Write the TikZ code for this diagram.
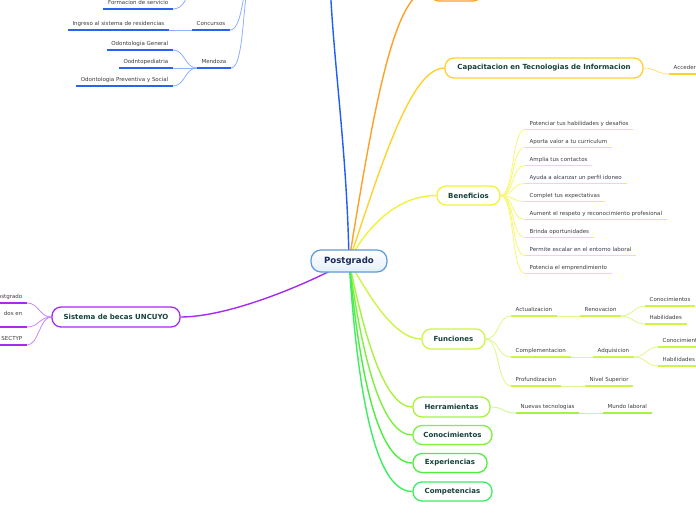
\documentclass[tikz,border=0pt]{standalone}
\usepackage{fontspec}
\setmainfont{DejaVu Sans}
\pgfdeclarelayer{bg}
\pgfsetlayers{bg,main}
\definecolor{tBlue}{HTML}{1F5CFA}
\definecolor{lBlue}{HTML}{8FB0FF}
\definecolor{uBlue}{HTML}{2A62F2}
\definecolor{cOrange}{HTML}{FFA126}
\definecolor{cGold}{HTML}{FFD22E}
\definecolor{lGold}{HTML}{FFE27A}
\definecolor{cYellow}{HTML}{F2F23A}
\definecolor{lYellow}{HTML}{F8F870}
\definecolor{cFun}{HTML}{CDF545}
\definecolor{lFun}{HTML}{DDF88A}
\definecolor{cHerr}{HTML}{A6F23F}
\definecolor{lHerr}{HTML}{C8F78A}
\definecolor{cCono}{HTML}{7DF03C}
\definecolor{cExp}{HTML}{4DEE3C}
\definecolor{cComp}{HTML}{3CEE62}
\definecolor{cPurple}{HTML}{A52BEF}
\definecolor{lPurple}{HTML}{C98AF5}
\definecolor{pgBorder}{HTML}{5B9BD9}
\definecolor{pgFill}{HTML}{E4EFFA}
\definecolor{pgText}{HTML}{1A2A58}
\definecolor{brText}{HTML}{15413A}
\definecolor{leafText}{HTML}{3C3C3C}
\begin{document}
\begin{tikzpicture}[x=1pt,y=-1pt,
  branch/.style={draw, fill=white, rounded corners=9pt, line width=1.3pt,
    font=\bfseries\fontsize{7}{8}\selectfont, text=brText, inner sep=0pt, minimum height=20pt},
  leaf/.style={font=\fontsize{5.5}{6.6}\selectfont, text=leafText, inner xsep=4.5pt,
    inner ysep=3pt, text height=4.2pt, text depth=1.2pt},
  trunk/.style={line width=1.4pt},
  twig/.style={line width=0.8pt},
  uline/.style={line width=1.8pt},
]
\useasboundingbox (0,0) rectangle (696,520);

% ---------- nodes ----------
\node[branch, draw=pgBorder, line width=1.2pt, rounded corners=10pt, text=pgText,
  top color=white, bottom color=pgFill,
  font=\bfseries\fontsize{8.6}{10}\selectfont, minimum width=76pt, minimum height=22pt] (pg) at (349,261) {Postgrado};
\node[branch, draw=cOrange, minimum width=52pt, minimum height=22pt] (orn) at (456,-10) {};
\node[branch, draw=cGold, minimum width=198pt] (cap) at (544,68) {Capacitacion en Tecnologias de Informacion};
\node[branch, draw=cYellow, minimum width=63pt, minimum height=19pt] (ben) at (468.5,195.5) {Beneficios};
\node[branch, draw=cFun, minimum width=63pt] (fun) at (453.5,339) {Funciones};
\node[branch, draw=cHerr, minimum width=77pt] (herr) at (451.5,407) {Herramientas};
\node[branch, draw=cCono, minimum width=79pt, minimum height=19pt] (cono) at (452.5,435) {Conocimientos};
\node[branch, draw=cExp, minimum width=74pt, minimum height=19pt] (exper) at (450,463) {Experiencias};
\node[branch, draw=cComp, minimum width=79pt, minimum height=19pt] (compe) at (452.5,491.5) {Competencias};
\node[branch, draw=cPurple, minimum width=128pt] (sis) at (116,317) {Sistema de becas UNCUYO};

\coordinate (blueTop) at (330,-20);
\coordinate (bpA) at (190,-12);
\coordinate (bpB) at (252,-22);

% blue leaves (left)
\node[leaf, anchor=south east] (fs) at (173,9) {Formacion de servicio};
\node[leaf, anchor=south east] (ing) at (169,30) {Ingreso al sistema de residencias};
\node[leaf, anchor=south east] (conc) at (230,30) {Concursos};
\node[leaf, anchor=south east] (mend) at (231,68) {Mendoza};
\node[leaf, anchor=south east] (og) at (173,50) {Odontologia General};
\node[leaf, anchor=south east] (oped) at (173,68) {Oodntopediatria};
\node[leaf, anchor=south east] (ops) at (173,86) {Odontologia Preventiva y Social};

% gold leaf
\node[leaf, anchor=south west] (acc) at (669,74) {Acceder};

% beneficios leaves
\foreach \t [count=\i from 0] in {Potenciar tus habilidades y desafios,Aporta valor a tu curriculum,Amplia tus contactos,Ayuda a alcanzar un perfil idoneo,Complet tus expectativas,Aument el respeto y reconocimiento profesional,Brinda oportunidades,Permite escalar en el entorno laboral,Potencia el emprendimiento}
  \node[leaf, anchor=south west] (b\i) at (525,129.5+18*\i) {\t};

% funciones leaves
\node[leaf, anchor=south west] (act) at (511,316) {Actualizacion};
\node[leaf, anchor=south west] (ren) at (580,316) {Renovacion};
\node[leaf, anchor=south west] (con1) at (645,306) {Conocimientos};
\node[leaf, anchor=south west] (hab1) at (645,324) {Habilidades};
\node[leaf, anchor=south west] (cmp) at (511,357) {Complementacion};
\node[leaf, anchor=south west] (adq) at (593,357) {Adquisicion};
\node[leaf, anchor=south west] (con2) at (658,347) {Conocimientos};
\node[leaf, anchor=south west] (hab2) at (658,366) {Habilidades};
\node[leaf, anchor=south west] (prof) at (511,386) {Profundizacion};
\node[leaf, anchor=south west] (niv) at (585,386) {Nivel Superior};

% herramientas leaves
\node[leaf, anchor=south west] (nt) at (516,413) {Nuevas tecnologias};
\node[leaf, anchor=south west] (ml) at (603,413) {Mundo laboral};

% purple leaves (left)
\node[leaf, anchor=south east] (pl1) at (27,303) {ostgrado};
\node[leaf, anchor=south east, text depth=8pt] (pl2) at (27,327) {dos en\hspace{4pt}};
\node[leaf, anchor=south east] (pl3) at (27,345) {SECTYP};

% ---------- connectors ----------
\begin{pgfonlayer}{bg}
\fill[white] (-5,-5) rectangle (701,525);

% trunks
\draw[trunk, tBlue] (pg.center) .. controls (347,150) and (333,60) .. (blueTop);
\draw[trunk, cOrange] (pg.center) .. controls (375,100) and (395,-10) .. (orn.west);
\draw[trunk, cGold] (pg.center) .. controls (380,170) and (410,68) .. (cap.west);
\draw[trunk, cYellow] (pg.center) .. controls (365,230) and (395,195.5) .. (ben.west);
\draw[trunk, cFun] (pg.center) .. controls (365,288) and (392,339) .. (fun.west);
\draw[trunk, cHerr] (pg.center) .. controls (365,340) and (385,407) .. (herr.west);
\draw[trunk, cCono] (pg.center) .. controls (363,365) and (383,435) .. (cono.west);
\draw[trunk, cExp] (pg.center) .. controls (361,390) and (381,463) .. (exper.west);
\draw[trunk, cComp] (pg.center) .. controls (359,415) and (379,491.5) .. (compe.west);
\draw[trunk, cPurple] (pg.center) .. controls (310,283) and (230,317) .. (sis.east);

% blue twigs
\draw[twig, lBlue] (bpA) .. controls (187,-2) and (183,9) .. (fs.south east);
\draw[twig, lBlue] (bpB) .. controls (242,-22) and (244,30) .. (conc.south east);
\draw[twig, lBlue] (bpB) .. controls (242,-22) and (246,68) .. (mend.south east);
\draw[twig, lBlue] (conc.south west) -- (ing.south east);
\foreach \n in {og,oped,ops}
  \draw[twig, lBlue] (mend.south west) .. controls +(-12,0) and +(12,0) .. (\n.south east);

% gold twig
\draw[twig, lGold] (cap.east) .. controls +(12,0) and +(-12,0) .. (acc.south west);

% beneficios twigs
\foreach \i in {0,...,8}
  \draw[twig, lYellow] (ben.east) .. controls +(14,0) and +(-14,0) .. (b\i.south west);

% funciones twigs
\foreach \n in {act,cmp,prof}
  \draw[twig, lFun] (fun.east) .. controls +(14,0) and +(-14,0) .. (\n.south west);
\draw[twig, lFun] (act.south east) -- (ren.south west);
\draw[twig, lFun] (cmp.south east) -- (adq.south west);
\draw[twig, lFun] (prof.south east) -- (niv.south west);
\foreach \n in {con1,hab1}
  \draw[twig, lFun] (ren.south east) .. controls +(10,0) and +(-10,0) .. (\n.south west);
\foreach \n in {con2,hab2}
  \draw[twig, lFun] (adq.south east) .. controls +(12,0) and +(-12,0) .. (\n.south west);

% herramientas twigs
\draw[twig, lHerr] (herr.east) .. controls +(14,0) and +(-14,0) .. (nt.south west);
\draw[twig, lHerr] (nt.south east) -- (ml.south west);

% purple twigs
\foreach \n in {pl1,pl2,pl3}
  \draw[twig, lPurple] (sis.west) .. controls +(-12,0) and +(12,0) .. (\n.south east);
\end{pgfonlayer}

% underlines
\foreach \n in {fs,ing,conc,mend,og,oped,ops}
  \draw[uline, uBlue] (\n.south west) -- (\n.south east);
\draw[uline, cGold] (acc.south west) -- (acc.south east);
\foreach \i in {0,...,8}
  \draw[uline, cYellow] (b\i.south west) -- (b\i.south east);
\foreach \n in {act,ren,con1,hab1,cmp,adq,con2,hab2,prof,niv}
  \draw[uline, cFun] (\n.south west) -- (\n.south east);
\foreach \n in {nt,ml}
  \draw[uline, cHerr] (\n.south west) -- (\n.south east);
\foreach \n in {pl1,pl2,pl3}
  \draw[uline, cPurple] (\n.south west) -- (\n.south east);
\end{tikzpicture}
\end{document}
